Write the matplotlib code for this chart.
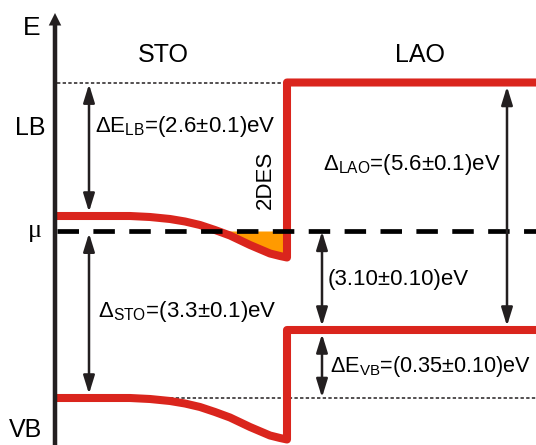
import matplotlib.pyplot as plt

plt.rcParams['font.family'] = ['Liberation Sans', 'DejaVu Sans']
plt.rcParams['mathtext.fontset'] = 'custom'
plt.rcParams['mathtext.rm'] = 'Liberation Sans'

# schematic band edges (drawing units, energy increasing upwards)
mu = 214.0
sto_cb = 229.0
sto_vb = 47.0
lao_cb = 362.5
lao_vb = 115.0

# band bending in STO approaching the interface
bend_x = [57, 130, 150, 170, 185, 200, 215, 230, 250, 270, 280, 287]
bend_drop = [0, 0, 1, 3, 5.5, 9, 14, 19.5, 29, 37.5, 40, 41.5]

x_left, x_iface, x_right = 57, 287, 540

gap_labels = [r'Δ$\mathregular{E_{LB}}$=(2.6±0.1)eV',
              r'Δ$\mathregular{_{STO}}$=(3.3±0.1)eV',
              r'Δ$\mathregular{_{LAO}}$=(5.6±0.1)eV',
              '(3.10±0.10)eV',
              r'Δ$\mathregular{E_{VB}}$=(0.35±0.10)eV']

RED = '#da251d'
ORANGE = '#ff9a00'
INK = '#231f20'

fig = plt.figure(figsize=(5.36, 4.45), dpi=100)
ax = fig.add_axes([0, 0, 1, 1])
ax.set_xlim(0, 536)
ax.set_ylim(0, 445)
ax.axis('off')

# energy axis
ax.arrow(55, 0, 0, 432, width=4.5, head_width=12.5, head_length=12.5,
         length_includes_head=True, fc=INK, ec='none', zorder=6)

# reference levels
ax.plot([x_left, x_iface], [lao_cb, lao_cb], color=INK, lw=1.1,
        linestyle=(0, (2.2, 1.5)), zorder=1)
ax.plot([x_left, x_right], [sto_vb, sto_vb], color=INK, lw=1.1,
        linestyle=(0, (2.2, 1.5)), zorder=1)

# bent STO bands joined to the LAO bands
cb_y = [sto_cb - d for d in bend_drop]
vb_y = [sto_vb - d for d in bend_drop]
ax.fill_between(bend_x, cb_y, mu, where=[y <= mu + 1 for y in cb_y],
                interpolate=True, color=ORANGE, lw=0, zorder=2)
for sto_y, lao_y in [(cb_y, lao_cb), (vb_y, lao_vb)]:
    xs = bend_x + [x_iface, x_right]
    ys = sto_y + [lao_y, lao_y]
    ax.plot(xs, ys, color=RED, lw=5.8, solid_joinstyle='round',
            solid_capstyle='butt', zorder=3)

# chemical potential
ax.plot([x_left, x_right], [mu, mu], color='black', lw=3.4,
        linestyle=(0, (4.55, 3.05)), zorder=4)

# gap arrows: x, from, to, shrink at from, shrink at to
arrows = [(89, lao_cb, sto_cb, 1.2, 2.9),
          (89, mu, sto_vb, 1.6, 2.9),
          (322, mu, lao_vb, 0.3, 2.9),
          (322, lao_vb, sto_vb, 2.9, 0.4),
          (507, lao_cb, lao_vb, 2.9, 2.9)]
for x, y0, y1, s0, s1 in arrows:
    ax.annotate('', xy=(x, y1), xytext=(x, y0),
                arrowprops=dict(arrowstyle='<|-|>,head_length=0.55,head_width=0.17',
                                mutation_scale=20, lw=1.8, color=INK,
                                shrinkA=s0, shrinkB=s1), zorder=5)

fs = 16
ax.text(95, 313, gap_labels[0], fontsize=fs, va='baseline')
ax.text(98, 128, gap_labels[1], fontsize=fs, va='baseline')
ax.text(323, 275, gap_labels[2], fontsize=fs, va='baseline')
ax.text(328, 160, gap_labels[3], fontsize=fs, va='baseline')
ax.text(330, 73, gap_labels[4], fontsize=15.6, va='baseline')

ax.text(265, 265, '2DES', fontsize=16, rotation=90, ha='center', va='center')
ax.text(163, 383, 'STO', fontsize=18, ha='center', va='baseline')
ax.text(420, 383, 'LAO', fontsize=18, ha='center', va='baseline')
ax.text(32, 410, 'E', fontsize=19, ha='center', va='baseline')
ax.text(30, 310, 'LB', fontsize=18, ha='center', va='baseline')
ax.text(26, 8, 'VB', fontsize=18, ha='center', va='baseline')
ax.text(35, 208, 'μ', fontsize=19, ha='center', va='baseline',
        family='Liberation Serif')

fig.savefig('out.png', dpi=100)
